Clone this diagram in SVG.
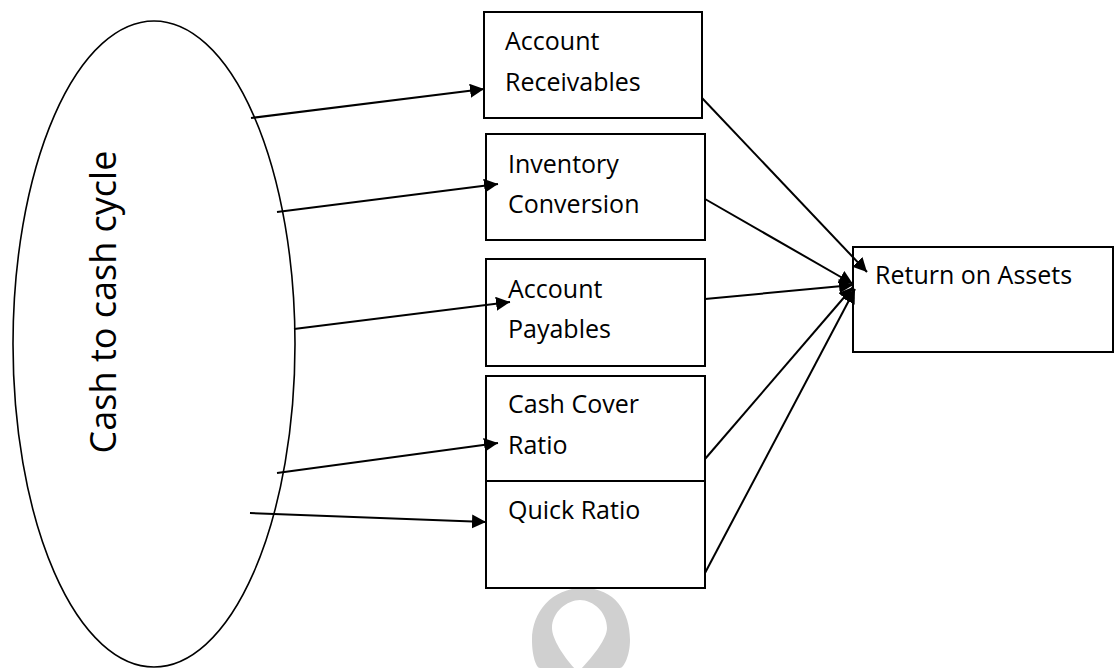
<svg xmlns="http://www.w3.org/2000/svg" width="1114" height="668" viewBox="0 0 1114 668">
  <style>
    .box { fill: #ffffff; stroke: #000000; stroke-width: 2; }
    .lbl { font-family: "Open Sans", "Noto Sans", "Liberation Sans", sans-serif; font-size: 25px; fill: #000000; }
    .big { font-family: "Open Sans", "Noto Sans", "Liberation Sans", sans-serif; font-size: 36px; fill: #000000; }
    .conn { fill: none; stroke: #000000; stroke-width: 2; }
  </style>
  <defs>
    <marker id="arrow" markerUnits="userSpaceOnUse" markerWidth="16" markerHeight="16" refX="14" refY="7" orient="auto">
      <path d="M0,0 L14,7 L0,14 z" fill="#000000"/>
    </marker>
  </defs>
  <rect x="0" y="0" width="1114" height="668" fill="#ffffff"/>

  <g id="watermark">
    <path fill="#d0d0d0" fill-rule="evenodd" d="M583,588 C615,588 630,612 630,640 C630,655 624,668 620,668 L540,668 C536,668 532,655 532,640 C532,612 552,588 583,588 Z M580,600 C567,600 552,612 552,628 C552,640 566,660 578,672 C590,660 607,640 607,628 C607,612 593,600 580,600 Z"/>
  </g>

  <g id="node-cash-cycle">
    <ellipse cx="154" cy="344" rx="141" ry="323" fill="#ffffff" stroke="#000000" stroke-width="1.6"/>
    <text class="big" transform="translate(116,302) rotate(-90)" text-anchor="middle">Cash to cash cycle</text>
  </g>

  <g id="node-account-receivables">
    <rect class="box" x="484" y="12" width="218" height="106"/>
    <text class="lbl" x="505" y="50">Account</text>
    <text class="lbl" x="505" y="91">Receivables</text>
  </g>

  <g id="node-inventory-conversion">
    <rect class="box" x="486" y="134" width="219" height="106"/>
    <text class="lbl" x="508" y="173">Inventory</text>
    <text class="lbl" x="508" y="213">Conversion</text>
  </g>

  <g id="node-account-payables">
    <rect class="box" x="486" y="259" width="219" height="107"/>
    <text class="lbl" x="508" y="298">Account</text>
    <text class="lbl" x="508" y="338">Payables</text>
  </g>

  <g id="node-cash-cover-ratio">
    <rect class="box" x="486" y="376" width="219" height="105"/>
    <text class="lbl" x="508" y="413">Cash Cover</text>
    <text class="lbl" x="508" y="454">Ratio</text>
  </g>

  <g id="node-quick-ratio">
    <rect class="box" x="486" y="481" width="219" height="107"/>
    <text class="lbl" x="508" y="519">Quick Ratio</text>
  </g>

  <g id="node-return-on-assets">
    <rect class="box" x="853" y="247" width="260" height="105"/>
    <text class="lbl" x="875" y="284">Return on Assets</text>
  </g>

  <g id="connectors">
    <line class="conn" x1="251" y1="118" x2="484" y2="89" marker-end="url(#arrow)"/>
    <line class="conn" x1="277" y1="212" x2="498" y2="184" marker-end="url(#arrow)"/>
    <line class="conn" x1="294" y1="329" x2="510" y2="302" marker-end="url(#arrow)"/>
    <line class="conn" x1="277" y1="473" x2="498" y2="443" marker-end="url(#arrow)"/>
    <line class="conn" x1="250" y1="513" x2="486" y2="522" marker-end="url(#arrow)"/>

    <line class="conn" x1="702" y1="98" x2="867" y2="272" marker-end="url(#arrow)"/>
    <line class="conn" x1="705" y1="199" x2="853" y2="284" marker-end="url(#arrow)"/>
    <line class="conn" x1="705" y1="299" x2="853" y2="285" marker-end="url(#arrow)"/>
    <line class="conn" x1="705" y1="459" x2="853" y2="287" marker-end="url(#arrow)"/>
    <line class="conn" x1="705" y1="573" x2="855" y2="289" marker-end="url(#arrow)"/>
  </g>
</svg>
